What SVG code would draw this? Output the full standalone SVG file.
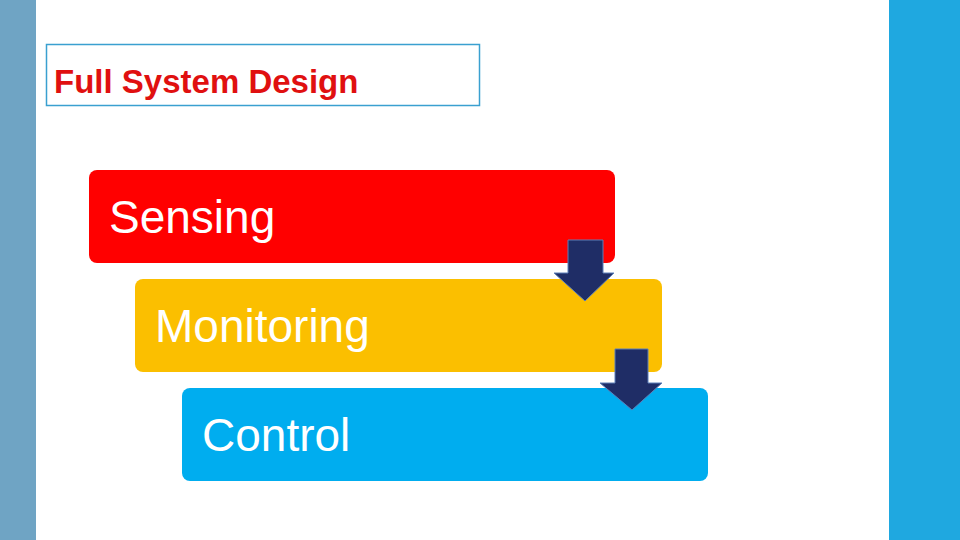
<svg xmlns="http://www.w3.org/2000/svg" width="960" height="540" viewBox="0 0 960 540">
<style>
.lbl{font-family:"Liberation Sans",Arial,sans-serif;font-size:46px;fill:#fff}
.arr{fill:#1f2d66;stroke:#5c7fb8;stroke-width:1}
</style>
<rect width="960" height="540" fill="#fff"/>
<rect x="0" y="0" width="36" height="540" fill="#6fa4c4"/>
<rect x="889" y="0" width="71" height="540" fill="#1fa8e0"/>
<g id="title">
<rect x="46.5" y="44.5" width="433" height="61" fill="#fff" stroke="#3aa0d0" stroke-width="1.5"/>
<text x="54" y="93" font-family="'Liberation Sans',Arial,sans-serif" font-size="33" font-weight="bold" fill="#e01010">Full System Design</text>
</g>
<g id="sensing"><rect x="89" y="170" width="526" height="93" rx="8" fill="#ff0000"/><text class="lbl" x="109" y="233">Sensing</text></g>
<g id="monitoring"><rect x="135" y="279" width="527" height="93" rx="8" fill="#fbbf00"/><text class="lbl" x="155" y="342">Monitoring</text></g>
<g id="control"><rect x="182" y="388" width="526" height="93" rx="8" fill="#00adef"/><text class="lbl" x="202" y="451">Control</text></g>
<g id="connectors">
<polygon class="arr" points="568,240 603,240 603,273 614,273 585,301 554,273 568,273"/>
<polygon class="arr" points="615,349 648,349 648,383 662,383 632,410 600,383 615,383"/>
</g>
</svg>
